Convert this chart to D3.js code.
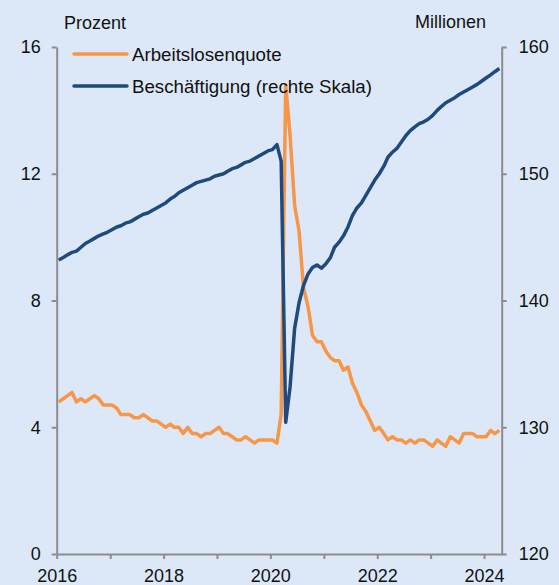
<!DOCTYPE html>
<html>
<head>
<meta charset="utf-8">
<script src="https://cdn.jsdelivr.net/npm/d3@7"></script>
<style>
  body { margin: 0; background: #dce8f7; }
  svg { display: block; font-family: "Liberation Sans", Arial, sans-serif; }
</style>
</head>
<body>
<div id="chart"></div>
<script>
// Monatswerte Jan 2016 – Apr 2024
const unemployment = [
  4.8, 4.9, 5.0, 5.1, 4.8, 4.9, 4.8, 4.9, 5.0, 4.9, 4.7, 4.7,
  4.7, 4.6, 4.4, 4.4, 4.4, 4.3, 4.3, 4.4, 4.3, 4.2, 4.2, 4.1,
  4.0, 4.1, 4.0, 4.0, 3.8, 4.0, 3.8, 3.8, 3.7, 3.8, 3.8, 3.9,
  4.0, 3.8, 3.8, 3.7, 3.6, 3.6, 3.7, 3.6, 3.5, 3.6, 3.6, 3.6,
  3.6, 3.5, 4.4, 14.8, 13.2, 11.0, 10.2, 8.4, 7.8, 6.9, 6.7, 6.7,
  6.4, 6.2, 6.1, 6.1, 5.8, 5.9, 5.4, 5.1, 4.7, 4.5, 4.2, 3.9,
  4.0, 3.8, 3.6, 3.7, 3.6, 3.6, 3.5, 3.6, 3.5, 3.6, 3.6, 3.5,
  3.4, 3.6, 3.5, 3.4, 3.7, 3.6, 3.5, 3.8, 3.8, 3.8, 3.7, 3.7,
  3.7, 3.9, 3.8, 3.9
];
const employment = [
  143.2, 143.4, 143.6, 143.8, 143.9, 144.2, 144.5, 144.7, 144.9, 145.1, 145.25, 145.4,
  145.6, 145.8, 145.9, 146.1, 146.2, 146.4, 146.6, 146.8, 146.9, 147.1, 147.3, 147.5,
  147.7, 148.0, 148.2, 148.5, 148.7, 148.9, 149.1, 149.3, 149.4, 149.5, 149.6, 149.8,
  149.9, 150.0, 150.2, 150.4, 150.5, 150.7, 150.9, 151.0, 151.2, 151.4, 151.6, 151.8,
  151.9, 152.3, 151.0, 130.4, 133.2, 137.8, 139.8, 141.2, 142.1, 142.6, 142.8, 142.55,
  142.9, 143.4, 144.2, 144.6, 145.1, 145.8, 146.7, 147.3, 147.7, 148.3, 148.9, 149.5,
  150.0, 150.6, 151.3, 151.7, 152.0, 152.5, 153.0, 153.4, 153.7, 153.95, 154.1, 154.3,
  154.6, 155.0, 155.3, 155.6, 155.8, 156.0, 156.25, 156.45, 156.65, 156.85, 157.05, 157.3,
  157.55, 157.8, 158.05, 158.3
];
const startYear = 2016;
const leftTicks = [0, 4, 8, 12, 16];
const rightTicks = [120, 130, 140, 150, 160];
const yearTicks = [2016, 2017, 2018, 2019, 2020, 2021, 2022, 2023, 2024];
const yearLabels = [2016, 2018, 2020, 2022, 2024];
const legendLabels = ["Arbeitslosenquote", "Beschäftigung (rechte Skala)"];

const W = 559, H = 585;
const margin = { top: 47, right: 57.3, bottom: 31, left: 56.7 };
const orange = "#f79646";
const blue = "#1f4a7e";
const grey = "#8c8c8c";

// Datum zur Monatsmitte
const dates = unemployment.map((d, i) => new Date(startYear, i, 15));

const svg = d3.select("#chart").append("svg")
  .attr("width", W)
  .attr("height", H);

svg.append("rect").attr("width", W).attr("height", H).attr("fill", "#dce8f7");

const x = d3.scaleTime()
  .domain([new Date(2016, 0, 1), new Date(2024, 4, 1)])
  .range([margin.left, W - margin.right]);
const yL = d3.scaleLinear().domain([0, 16]).range([H - margin.bottom, margin.top]);
const yR = d3.scaleLinear().domain([120, 160]).range([H - margin.bottom, margin.top]);

// Achsen
function styleAxis(g) {
  g.selectAll(".domain").attr("stroke", grey).attr("stroke-width", 2);
  g.selectAll(".tick line").attr("stroke", grey).attr("stroke-width", 2);
  g.selectAll(".tick text").attr("fill", "#111").attr("font-size", "18px");
}

svg.append("g")
  .attr("transform", `translate(${margin.left},0)`)
  .call(d3.axisLeft(yL).tickValues(leftTicks).tickSize(5).tickSizeOuter(0).tickPadding(11))
  .call(styleAxis)
  .attr("font-family", null);

svg.append("g")
  .attr("transform", `translate(${W - margin.right},0)`)
  .call(d3.axisRight(yR).tickValues(rightTicks).tickSize(5).tickSizeOuter(0).tickPadding(12))
  .call(styleAxis)
  .attr("font-family", null);

svg.append("g")
  .attr("transform", `translate(0,${H - margin.bottom})`)
  .call(d3.axisBottom(x)
    .tickValues(yearTicks.map(y => new Date(y, 0, 1)))
    .tickFormat(d => yearLabels.includes(d.getFullYear()) ? d.getFullYear() : "")
    .tickSize(5).tickSizeOuter(0).tickPadding(10))
  .call(styleAxis)
  .attr("font-family", null);

// Linien
const lineL = d3.line().x((d, i) => x(dates[i])).y(d => yL(d));
const lineR = d3.line().x((d, i) => x(dates[i])).y(d => yR(d));

svg.append("path")
  .datum(unemployment)
  .attr("d", lineL)
  .attr("fill", "none")
  .attr("stroke", orange)
  .attr("stroke-width", 3.5)
  .attr("stroke-linejoin", "round");

svg.append("path")
  .datum(employment)
  .attr("d", lineR)
  .attr("fill", "none")
  .attr("stroke", blue)
  .attr("stroke-width", 3.5)
  .attr("stroke-linejoin", "round");

// Einheiten
svg.append("text").attr("x", 64).attr("y", 29).attr("font-size", "18px").attr("fill", "#111").text("Prozent");
svg.append("text").attr("x", 415).attr("y", 28).attr("font-size", "18px").attr("fill", "#111").text("Millionen");

// Legende
const legend = svg.append("g").selectAll("g")
  .data(legendLabels)
  .enter().append("g")
  .attr("transform", (d, i) => `translate(74,${54 + i * 32})`);

legend.append("line")
  .attr("x1", 0).attr("x2", 53)
  .attr("stroke", (d, i) => i === 0 ? orange : blue)
  .attr("stroke-width", 3.5)
  .attr("stroke-linecap", "round");

legend.append("text")
  .attr("x", 58).attr("y", 6.5)
  .attr("font-size", "18.7px")
  .attr("fill", "#111")
  .text(d => d);
</script>
</body>
</html>
